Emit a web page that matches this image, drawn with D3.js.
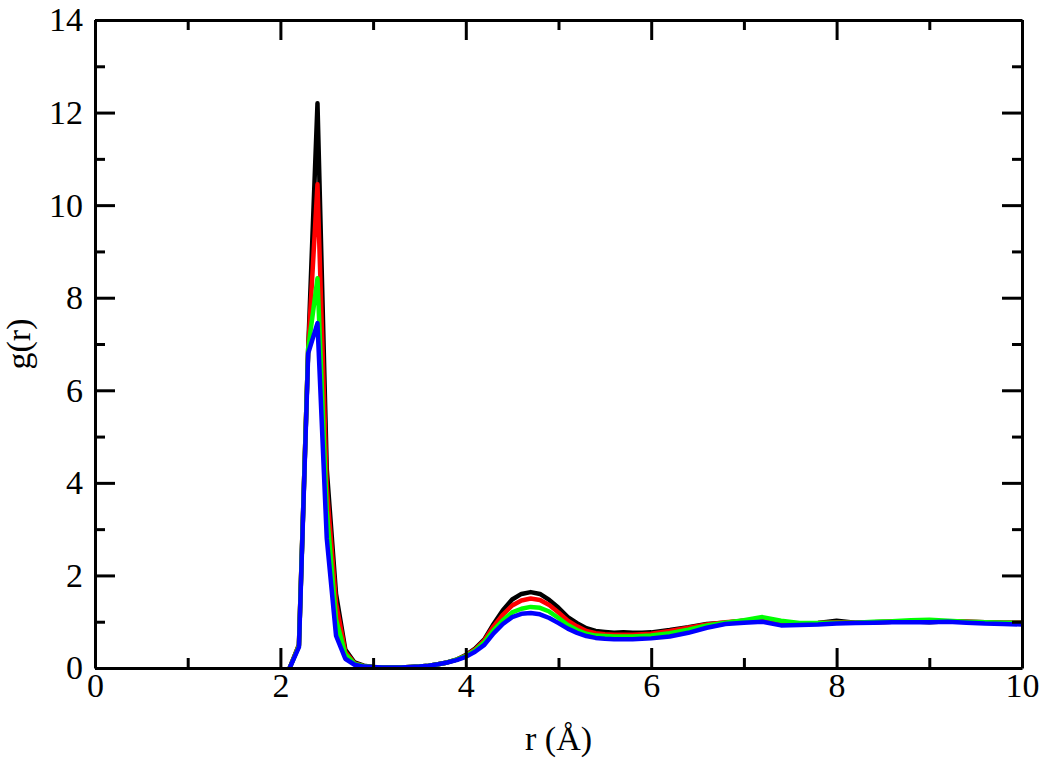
<!DOCTYPE html>
<html>
<head>
<meta charset="UTF-8">
<style>
  body { margin: 0; background: #fff; }
  svg { display: block; }
  .axis text { font-family: "Liberation Serif", "Times New Roman", Times, serif; font-size: 34px; fill: #000; }
  .axis path, .axis line { stroke: #000; stroke-width: 3; }
  .label { font-family: "Liberation Serif", "Times New Roman", Times, serif; font-size: 34px; fill: #000; }
</style>
</head>
<body>
<svg></svg>
<script src="https://d3js.org/d3.v7.min.js"></script>
<script>
// r values (Å), shared by all curves
var r = [2.1, 2.2, 2.3, 2.4, 2.5, 2.6, 2.7, 2.8, 2.9, 3.0,
         3.1, 3.2, 3.3, 3.4, 3.5, 3.6, 3.7, 3.8, 3.9, 4.0,
         4.1, 4.2, 4.3, 4.4, 4.5, 4.6, 4.7, 4.8, 4.9, 5.0,
         5.1, 5.2, 5.3, 5.4, 5.5, 5.6, 5.7, 5.8, 5.9, 6.0,
         6.2, 6.4, 6.6, 6.8, 7.0, 7.2, 7.4, 7.6, 7.8, 8.0,
         8.2, 8.4, 8.6, 8.8, 9.0, 9.2, 9.4, 9.6, 9.8, 10.0];

var gBlack = [0, 0.5, 6.9, 12.2, 4.3, 1.6, 0.4, 0.12, 0.05, 0.02,
              0.01, 0.01, 0.01, 0.02, 0.03, 0.05, 0.08, 0.12, 0.18, 0.28,
              0.42, 0.62, 0.95, 1.25, 1.48, 1.6, 1.64, 1.6, 1.47, 1.3,
              1.1, 0.97, 0.86, 0.8, 0.78, 0.76, 0.77, 0.76, 0.76, 0.77,
              0.82, 0.88, 0.95, 0.98, 1.02, 1.05, 0.98, 0.96, 0.97, 1.02,
              0.98, 0.99, 1.0, 1.01, 0.99, 1.01, 1.0, 0.99, 0.98, 0.98];

var gRed = [0, 0.5, 6.9, 10.45, 3.9, 1.4, 0.35, 0.1, 0.04, 0.02,
            0.01, 0.01, 0.01, 0.02, 0.03, 0.05, 0.08, 0.12, 0.18, 0.27,
            0.4, 0.6, 0.9, 1.15, 1.35, 1.46, 1.5, 1.47, 1.36, 1.2,
            1.02, 0.9, 0.8, 0.75, 0.73, 0.72, 0.72, 0.72, 0.73, 0.74,
            0.8, 0.87, 0.94, 0.99, 1.02, 1.06, 0.99, 0.96, 0.97, 0.99,
            0.98, 0.99, 1.0, 1.01, 1.0, 1.01, 1.0, 0.99, 0.98, 0.98];

var gGreen = [0, 0.48, 6.9, 8.42, 3.4, 1.05, 0.3, 0.09, 0.04, 0.02,
              0.01, 0.01, 0.01, 0.02, 0.03, 0.05, 0.08, 0.12, 0.18, 0.26,
              0.38, 0.56, 0.82, 1.03, 1.2, 1.28, 1.32, 1.3, 1.22, 1.08,
              0.93, 0.82, 0.74, 0.7, 0.69, 0.68, 0.68, 0.68, 0.69, 0.7,
              0.75, 0.83, 0.92, 0.98, 1.03, 1.1, 1.02, 0.97, 0.97, 0.98,
              0.98, 1.0, 1.01, 1.03, 1.04, 1.02, 1.0, 0.99, 0.98, 0.97];

var gBlue = [0, 0.45, 6.8, 7.45, 2.8, 0.7, 0.2, 0.07, 0.03, 0.02,
             0.01, 0.01, 0.01, 0.02, 0.03, 0.05, 0.08, 0.12, 0.17, 0.24,
             0.35, 0.5, 0.75, 0.95, 1.1, 1.17, 1.19, 1.16, 1.08, 0.97,
             0.85, 0.76, 0.69, 0.65, 0.63, 0.62, 0.62, 0.62, 0.63, 0.64,
             0.68, 0.76, 0.87, 0.95, 0.98, 1.0, 0.92, 0.93, 0.94, 0.96,
             0.97, 0.98, 0.99, 0.99, 0.99, 1.0, 0.98, 0.96, 0.95, 0.94];

var series = [
  {name: "black", values: gBlack, color: "#000000"},
  {name: "red", values: gRed, color: "#ff0000"},
  {name: "green", values: gGreen, color: "#00ff00"},
  {name: "blue", values: gBlue, color: "#0000ff"}
];

var xMajor = [0, 2, 4, 6, 8, 10];
var xMinor = [1, 3, 5, 7, 9];
var yMajor = [0, 2, 4, 6, 8, 10, 12, 14];
var yMinor = [1, 3, 5, 7, 9, 11, 13];

var width = 1050, height = 761;
var margin = {left: 95, top: 20, right: 28, bottom: 93};
var w = width - margin.left - margin.right,
    h = height - margin.top - margin.bottom;

var svg = d3.select("svg")
    .attr("width", width)
    .attr("height", height);

var x = d3.scaleLinear().domain([0, 10]).range([0, w]);
var y = d3.scaleLinear().domain([0, 14]).range([h, 0]);

var g = svg.append("g")
    .attr("transform", "translate(" + margin.left + "," + margin.top + ")");

// curves
var line = d3.line()
    .x(function(d, i) { return x(r[i]); })
    .y(function(d) { return y(d); });

g.selectAll(".curve")
    .data(series)
    .enter()
    .append("path")
    .attr("class", "curve")
    .attr("d", function(d) { return line(d.values); })
    .attr("fill", "none")
    .attr("stroke", function(d) { return d.color; })
    .attr("stroke-width", 4.5)
    .attr("stroke-linejoin", "round");

// axes, ticks pointing inward on all four sides
function addAxis(axisFn, scale, major, minor, tr, labels) {
  var major_ax = axisFn(scale).tickValues(major).tickSizeInner(-20).tickSizeOuter(0);
  if (labels) major_ax.tickPadding(labels).tickFormat(d3.format("d"));
  else major_ax.tickFormat("");
  var ga = g.append("g").attr("class", "axis").attr("transform", tr).call(major_ax);
  g.append("g").attr("class", "axis").attr("transform", tr)
    .call(axisFn(scale).tickValues(minor).tickSizeInner(-10).tickSizeOuter(0).tickFormat(""))
    .select(".domain").remove();
  return ga;
}

addAxis(d3.axisBottom, x, xMajor, xMinor, "translate(0," + h + ")", 5);
addAxis(d3.axisTop, x, xMajor, xMinor, "translate(0,0)", 0);
addAxis(d3.axisLeft, y, yMajor, yMinor, "translate(0,0)", 12);
addAxis(d3.axisRight, y, yMajor, yMinor, "translate(" + w + ",0)", 0);

// axis titles
svg.append("text")
    .attr("class", "label")
    .attr("x", margin.left + w / 2)
    .attr("y", 750)
    .attr("text-anchor", "middle")
    .text("r (Å)");

svg.append("text")
    .attr("class", "label")
    .attr("transform", "translate(30," + (margin.top + h / 2) + ") rotate(-90)")
    .attr("text-anchor", "middle")
    .text("g(r)");
</script>
</body>
</html>
